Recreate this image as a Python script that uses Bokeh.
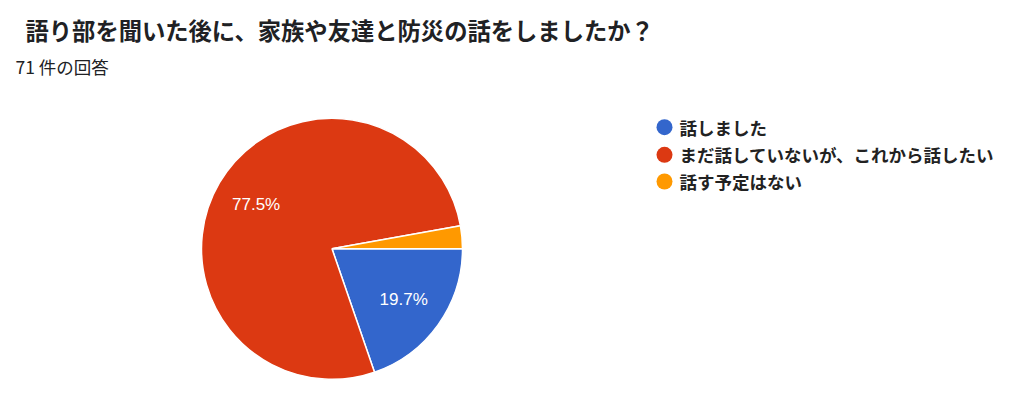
import math
from bokeh.plotting import figure
from bokeh.models import Range1d, ColumnDataSource
from bokeh.core.properties import value
from bokeh.embed import file_html
from bokeh.resources import INLINE

# ---- data ----
title_text = "語り部を聞いた後に、家族や友達と防災の話をしましたか？"
subtitle_text = "71 件の回答"
categories = ["話しました", "まだ話していないが、これから話したい", "話す予定はない"]
counts = [14, 55, 2]
colors = ["#3366cc", "#dc3912", "#ff9900"]

# ---- layout (pixel-like data coords; figure is 1008 x 400) ----
W, H = 1008, 400
CX, CY, R = 331.5, 151.7, 130.5
LABEL_R = 88
JP = "Noto Sans CJK JP"

p = figure(width=W, height=H, output_backend="svg", toolbar_location=None,
           x_range=Range1d(0, W), y_range=Range1d(0, H),
           x_axis_type=None, y_axis_type=None, min_border=0)
p.outline_line_color = None
p.grid.visible = False
p.background_fill_color = "white"
p.border_fill_color = "white"

total = sum(counts)
fracs = [c / total for c in counts]
starts, ends, xs, ys, labels = [], [], [], [], []
acc = 0.0
for f in fracs:
    a = acc * 2 * math.pi           # clockwise angle from 3 o'clock
    b = (acc + f) * 2 * math.pi
    starts.append(-b)
    ends.append(-a)
    m = -(a + b) / 2
    xs.append(CX + LABEL_R * math.cos(m))
    ys.append(CY + LABEL_R * math.sin(m))
    labels.append(f"{f * 100:.1f}%" if f >= 0.05 else "")
    acc += f

src = ColumnDataSource(dict(start=starts, end=ends, color=colors,
                            x=xs, y=ys, label=labels))
p.wedge(x=CX, y=CY, radius=R, start_angle="start", end_angle="end",
        direction="anticlock", fill_color="color", line_color="white",
        line_width=1.5, source=src)
p.text(x="x", y="y", text="label", source=src, text_color="white",
       text_font=value("Liberation Sans"), text_font_size="17px",
       text_align="center", text_baseline="middle")

# title and subtitle
p.text(x=[25], y=[370.5], text=[title_text], text_font=value(JP),
       text_font_style="bold", text_font_size="23.3px", text_color="#202124",
       text_baseline="middle")
p.text(x=[15], y=[334], text=[subtitle_text], text_font=value(JP),
       text_font_size="17.5px", text_color="#202124", text_baseline="middle")

# legend
leg_y = [273.3, 245.7, 219.0]
p.scatter(x=[664] * 3, y=leg_y, size=16, marker="circle",
          fill_color=colors, line_color=None)
p.text(x=[679] * 3, y=leg_y, text=categories, text_font=value(JP),
       text_font_size="17.5px", text_font_style="bold", text_color="#222222",
       text_baseline="middle")

open("out.html", "w").write(file_html(p, INLINE))
